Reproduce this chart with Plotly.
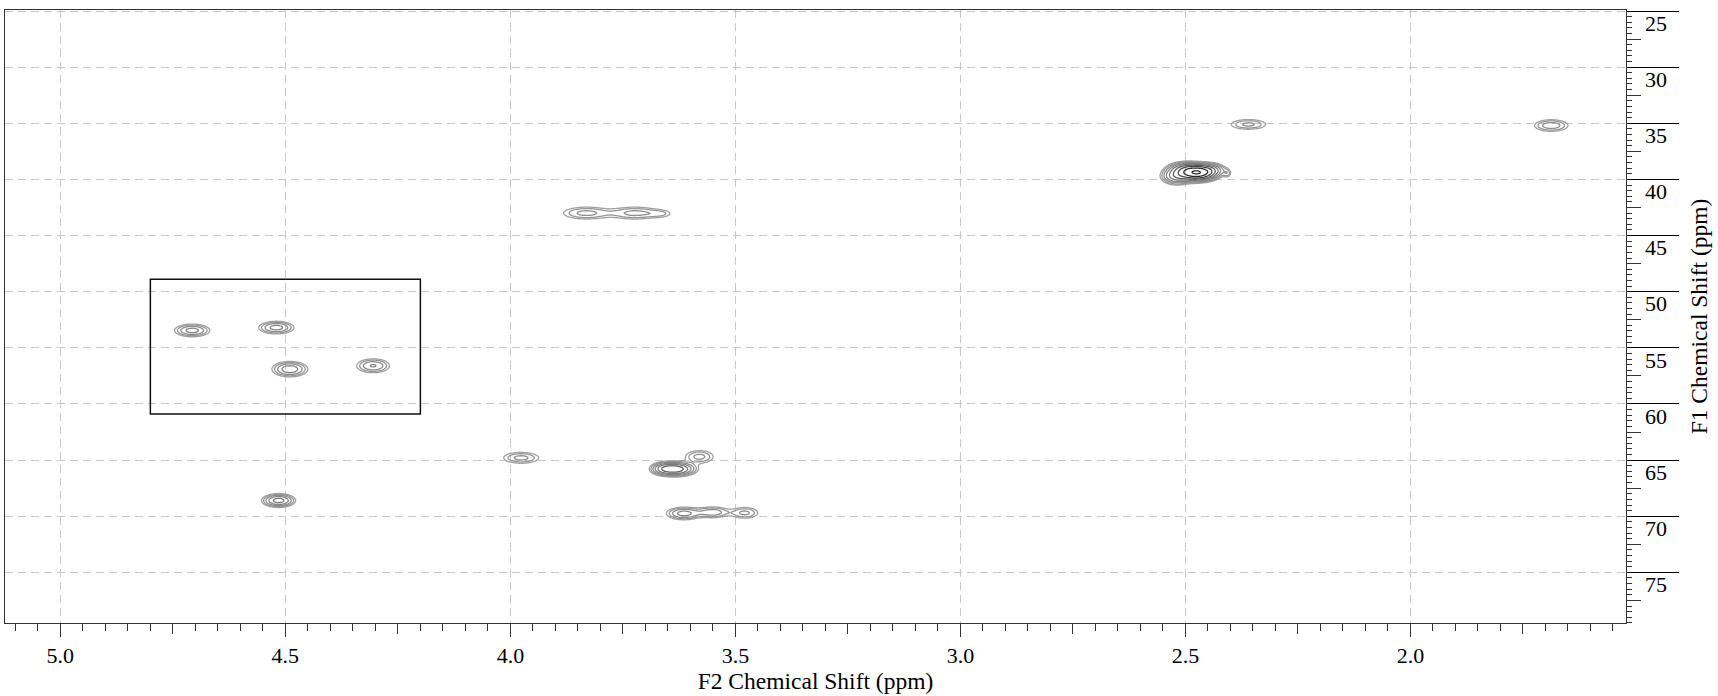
import numpy as np
import plotly.graph_objects as go

# ---- data -------------------------------------------------------------
# cross peaks: F2 shift (ppm), F1 shift (ppm), relative intensity, widths, group
peak_f2 = [4.707, 4.520, 4.490, 4.305, 4.515,
           3.832, 3.723, 3.665,
           2.360, 1.687,
           2.475, 2.520, 2.500, 2.445, 2.407,
           3.976,
           3.634, 3.580, 3.660,
           3.615, 3.550, 3.479]
peak_f1 = [53.45, 53.2, 56.9, 56.6, 68.6,
           43.0, 43.0, 43.05,
           35.1, 35.2,
           39.4, 39.7, 39.0, 39.1, 39.45,
           64.8,
           65.8, 64.7, 65.75,
           69.75, 69.65, 69.7]
peak_int = [4.0, 4.0, 4.5, 3.5, 6.0,
            2.6, 2.6, 1.2,
            2.5, 3.0,
            25.0, 6.0, 5.0, 4.0, 1.6,
            2.6,
            10.0, 2.6, 3.0,
            4.0, 3.0, 2.5]
peak_wf2 = [0.0235, 0.0235, 0.023, 0.023, 0.020,
            0.036, 0.036, 0.020,
            0.028, 0.025,
            0.023, 0.019, 0.021, 0.019, 0.006,
            0.028,
            0.024, 0.022, 0.016,
            0.023, 0.023, 0.021]
peak_wf1 = [0.34, 0.34, 0.40, 0.39, 0.33,
            0.38, 0.38, 0.26,
            0.32, 0.35,
            0.37, 0.42, 0.32, 0.32, 0.26,
            0.35,
            0.33, 0.40, 0.32,
            0.34, 0.32, 0.35]
peak_group = [0, 1, 2, 3, 4,
              5, 5, 5,
              6, 7,
              8, 8, 8, 8, 8,
              9,
              10, 10, 10,
              11, 11, 11]

# highlighted region (F2 left, F2 right, F1 top, F1 bottom)
box_f2 = [4.80, 4.20]
box_f1 = [48.9, 60.9]

x_tick_vals = [5.0, 4.5, 4.0, 3.5, 3.0, 2.5, 2.0]
x_tick_text = ["5.0", "4.5", "4.0", "3.5", "3.0", "2.5", "2.0"]
y_tick_vals = [25, 30, 35, 40, 45, 50, 55, 60, 65, 70, 75]
y_tick_text = ["25", "30", "35", "40", "45", "50", "55", "60", "65", "70", "75"]

x_range = [5.123, 1.521]
y_range = [79.51, 24.91]

# ---- figure -----------------------------------------------------------
font_family = "Liberation Serif"
pf2 = np.array(peak_f2); pf1 = np.array(peak_f1)
pa = np.array(peak_int); psx = np.array(peak_wf2); psy = np.array(peak_wf1)
pg = np.array(peak_group)

fig = go.Figure()
for g in sorted(set(peak_group)):
    m = pg == g
    x0 = (pf2[m] - 5 * psx[m]).min(); x1 = (pf2[m] + 5 * psx[m]).max()
    y0 = (pf1[m] - 5 * psy[m]).min(); y1 = (pf1[m] + 5 * psy[m]).max()
    xs = np.linspace(x0, x1, 140)
    ys = np.linspace(y0, y1, 70)
    X, Y = np.meshgrid(xs, ys)
    I = np.zeros_like(X)
    for xc, yc, a, sx, sy in zip(pf2, pf1, pa, psx, psy):
        I += a * np.exp(-((X - xc) ** 2) / (2 * sx ** 2) - ((Y - yc) ** 2) / (2 * sy ** 2))
    Z = np.round(np.log10(I + 1e-3), 4)
    fig.add_trace(go.Contour(
        x=np.round(xs, 5), y=np.round(ys, 4), z=Z,
        contours=dict(coloring="lines", start=0.0, end=2.0, size=float(np.log10(1.5))),
        colorscale=[[0, "#a0a0a0"], [0.55, "#7c7c7c"], [1, "#2a2a2a"]],
        zmin=0, zmax=1.3, autocontour=False,
        line=dict(width=1.3, smoothing=1),
        showscale=False, hoverinfo="skip",
    ))

# empty traces so the overlay axes (extra tick levels, labels) get drawn
fig.add_trace(go.Scatter(x=[], y=[], xaxis="x2", yaxis="y", showlegend=False, hoverinfo="skip"))
fig.add_trace(go.Scatter(x=[], y=[], xaxis="x", yaxis="y2", showlegend=False, hoverinfo="skip"))
fig.add_trace(go.Scatter(x=[], y=[], xaxis="x", yaxis="y3", showlegend=False, hoverinfo="skip"))

fig.add_shape(type="rect", xref="x", yref="y",
              x0=box_f2[0], x1=box_f2[1], y0=box_f1[0], y1=box_f1[1],
              line=dict(color="#111111", width=1.5))

grid_col = "#c8c8c8"
axis_col = "#333333"
tick_font = dict(family=font_family, size=22, color="black")
title_font = dict(family=font_family, size=23.5, color="black")

fig.update_layout(
    width=1718, height=696,
    margin=dict(l=5, r=92, t=10, b=73, autoexpand=False),
    paper_bgcolor="white", plot_bgcolor="white",
    font=dict(family=font_family, size=22, color="black"),
    showlegend=False,
    xaxis=dict(
        range=x_range, autorange=False,
        tickmode="array", tickvals=x_tick_vals, ticktext=x_tick_text,
        ticks="outside", ticklen=13, tickwidth=1, tickcolor=axis_col,
        tickfont=tick_font,
        showgrid=True, gridcolor=grid_col, griddash="8px,5px", gridwidth=1,
        zeroline=False, showline=True, linecolor=axis_col, linewidth=1, mirror=True,
        minor=dict(dtick=0.05, tick0=5.0, ticks="outside", ticklen=7, tickcolor=axis_col, showgrid=False),
        title=dict(text="F2 Chemical Shift (ppm)", font=title_font, standoff=3),
        anchor="y",
    ),
    xaxis2=dict(
        overlaying="x", matches="x", anchor="y", side="bottom",
        tick0=4.75, dtick=0.5, ticks="outside", ticklen=10, tickcolor=axis_col,
        showticklabels=False, showgrid=False, showline=False, zeroline=False,
    ),
    yaxis=dict(
        range=y_range, autorange=False, side="right",
        tickmode="array", tickvals=y_tick_vals,
        ticks="outside", ticklen=52, tickwidth=1, tickcolor="black",
        showticklabels=False,
        showgrid=True, gridcolor=grid_col, griddash="8px,5px", gridwidth=1,
        zeroline=False, showline=True, linecolor=axis_col, linewidth=1, mirror=True,
        minor=dict(dtick=0.5, tick0=25, ticks="outside", ticklen=5, tickcolor=axis_col, showgrid=False),
        anchor="x",
    ),
    yaxis2=dict(
        overlaying="y", matches="y", anchor="x", side="right",
        tick0=27.5, dtick=5, ticks="outside", ticklen=14, tickcolor=axis_col,
        showticklabels=False, showgrid=False, showline=False, zeroline=False,
    ),
    yaxis3=dict(
        overlaying="y", matches="y", anchor="x", side="right",
        tickmode="array", tickvals=y_tick_vals, ticktext=y_tick_text,
        ticks="", tickfont=tick_font,
        ticklabelshift=-12, ticklabelstandoff=18,
        showgrid=False, showline=False, zeroline=False,
        title=dict(text="F1 Chemical Shift (ppm)", font=title_font, standoff=24),
    ),
)

fig.write_html("out.html")
